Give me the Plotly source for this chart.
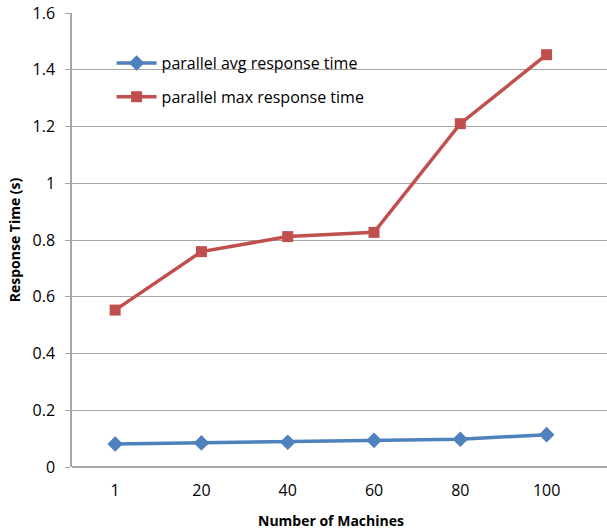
import plotly.graph_objects as go

machines = ["1", "20", "40", "60", "80", "100"]
avg_response = [0.081, 0.085, 0.087, 0.094, 0.098, 0.114]
max_response = [0.553, 0.759, 0.812, 0.827, 1.21, 1.453]
y_ticks = [0, 0.2, 0.4, 0.6, 0.8, 1, 1.2, 1.4, 1.6]
y_tick_text = ["0", "0.2", "0.4", "0.6", "0.8", "1", "1.2", "1.4", "1.6"]

FONT = "Open Sans, Lato, sans-serif"
GRID = "#a6a6a6"

fig = go.Figure()
fig.add_trace(go.Scatter(
    x=machines, y=avg_response, mode="lines+markers",
    name="parallel avg response time", legendgroup="a",
    line=dict(color="#4f81bd", width=3.5),
    marker=dict(symbol="diamond", size=12, color="#4f81bd"),
))
fig.add_trace(go.Scatter(
    x=machines, y=max_response, mode="lines+markers",
    name="parallel max response time", legendgroup="b",
    line=dict(color="#c0504d", width=3.5),
    marker=dict(symbol="square", size=11, color="#c0504d"),
))

fig.update_layout(
    width=607, height=531,
    margin=dict(l=72, r=0, t=13, b=64),
    paper_bgcolor="white", plot_bgcolor="white",
    font=dict(family=FONT, size=15, color="#000000"),
    showlegend=True,
    legend=dict(
        x=0.074, y=0.927, xanchor="left", yanchor="top",
        bgcolor="rgba(0,0,0,0)", font=dict(size=16, family=FONT),
        traceorder="grouped", tracegroupgap=10, itemwidth=40,
    ),
    xaxis=dict(
        type="category", range=[-0.5, 5.7], automargin=False,
        showgrid=False, showline=False, zeroline=False,
        ticks="", ticklabelstandoff=12, tickfont=dict(size=16, family=FONT),
    ),
    yaxis=dict(
        range=[0, 1.6], tickvals=y_ticks, ticktext=y_tick_text, automargin=False,
        showgrid=True, gridcolor=GRID, gridwidth=1,
        showline=True, linecolor=GRID, linewidth=1.5,
        zeroline=True, zerolinecolor=GRID, zerolinewidth=1.5,
        ticks="outside", ticklen=5, tickcolor=GRID, ticklabelstandoff=7,
        tickfont=dict(size=16, family=FONT),
        title=dict(text="<b>Response Time (s)</b>", font=dict(size=14, family=FONT), standoff=9),
    ),
    annotations=[dict(
        text="<b>Number of Machines</b>", x=2.5, xref="x",
        y=-(520 - 467) / 454, yref="paper", yanchor="middle",
        showarrow=False, font=dict(size=14, family=FONT),
    )],
)

fig.write_html(
    "out.html",
    config={"displayModeBar": False},
    post_script="document.body.style.margin='0';document.body.style.overflow='hidden';",
)
